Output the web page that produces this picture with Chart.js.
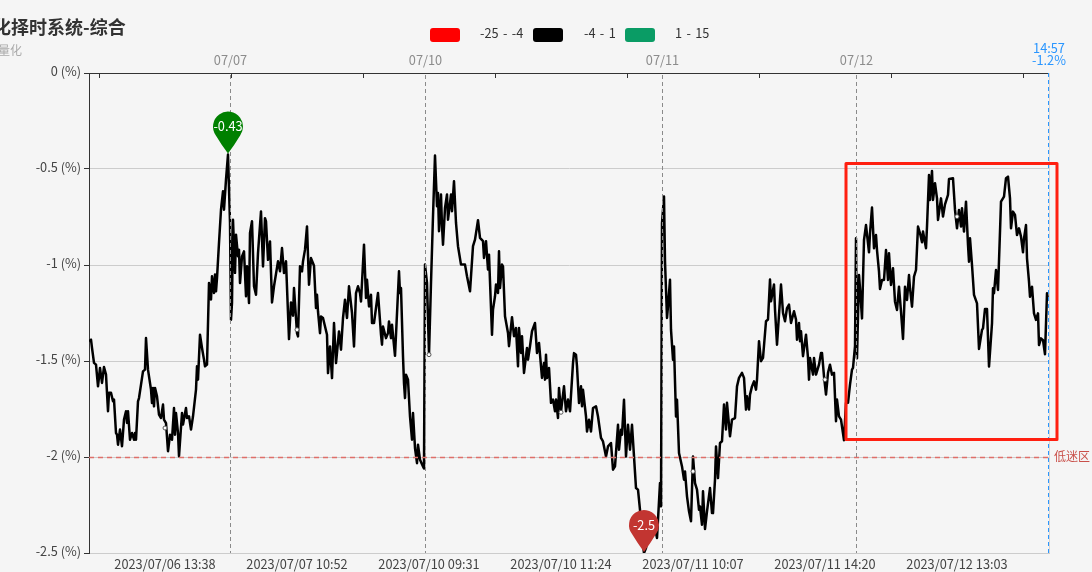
<!DOCTYPE html>
<html>
<head>
<meta charset="utf-8">
<script src="https://cdn.jsdelivr.net/npm/chart.js@4"></script>
<style>
  html, body { margin: 0; padding: 0; background: #f5f5f5; overflow: hidden; }
  #wrap { position: absolute; left: 0; top: 0; width: 1092px; height: 572px; }
</style>
</head>
<body>
<div id="wrap"><canvas id="c"></canvas></div>
<script>
// minute index along the axis and the matching value in %
const minuteIdx = [
  0,2,3,5,7,9,11,13,15,17,18,19,20,22,24,25,27,28,29,31,33,35,37,38,39,41,43,45,46,47,49,50,54,56,57,59,
  62,63,64,65,66,68,70,72,74,75,77,79,81,83,85,86,87,89,90,93,94,97,98,100,102,104,107,108,109,111,113,115,116,118,
  120,122,123,125,126,127,128,130,132,134,135,137,139,141,142,143,144,146,147,149,150,151,153,155,157,158,160,161,163,165,
  167,169,172,174,176,177,179,181,183,185,189,191,193,195,197,200,202,204,205,208,209,211,213,214,216,218,220,222,225,227,228,229,
  231,232,234,238,239,241,243,245,247,250,252,254,256,258,260,263,265,267,269,271,272,275,277,278,280,282,283,285,289,292,293,294,
  297,299,300,302,303,306,310,311,312,314,315,316,317,319,321,323,324,326,328,329,331,334,335,
  336,338,340,342,344,346,348,349,350,352,353,354,356,358,359,362,363,365,367,369,372,376,378,381,384,386,389,391,394,395,397,399,400,
  403,404,406,407,409,410,411,413,414,416,419,420,423,425,427,429,430,432,433,435,438,439,441,443,446,448,450,453,455,456,457,458,460,
  462,464,466,467,469,470,472,475,477,479,481,
  484,485,487,488,490,492,493,494,497,498,500,502,504,507,509,512,514,517,519,522,524,526,529,530,532,533,535,537,539,541,543,545,547,549,551,553,555,557,559,563,566,568,571,572,
  573,575,576,578,579,581,582,584,585,587,588,590,593,595,596,598,600,602,604,606,608,610,611,613,614,616,618,621,623,624,626,627,629,631,
  633,635,637,638,641,643,646,648,650,653,655,657,658,660,661,663,665,667,668,670,672,674,677,679,681,682,685,686,688,692,694,696,698,700,702,705,707,708,710,711,712,714,717,719,720,721,724,725,727,730,732,733,735,737,739,741,743,745,747,748,750,752,755,
  757,759,761,763,764,766,767,768,770,771,773,775,777,780,781,783,785,787,788,790,791,793,795,797,799,800,802,804,806,808,810,812,813,814,816,818,820,821,823,825,827,829,831,833,834,837,838,
  840,841,843,844,846,848,849,852,854,856,859,860,864,866,868,870,872,873,875,877,879,880,881,883,885,888,890,893,894,896,898,900,903,904,905,907,909,911,912,915,917,919,921,922,924,926,928,930,932,934,935,937,938,940,941,943,945,947,949,950,952,954,956,958,959
];
const pctValues = [
  -1.397,-1.389,-1.432,-1.51,-1.519,-1.632,-1.536,-1.614,-1.531,-1.571,-1.666,-1.762,-1.666,-1.666,-1.71,-1.701,-1.875,-1.884,-1.936,-1.857,-1.944,-1.805,-1.762,-1.823,-1.762,-1.91,-1.875,-1.91,-1.875,-1.91,-1.71,-1.693,-1.554,-1.545,-1.38,-1.545,
  -1.649,-1.719,-1.64,-1.736,-1.64,-1.684,-1.779,-1.797,-1.727,-1.805,-1.823,-1.97,-1.884,-1.91,-1.745,-1.884,-1.771,-1.875,-1.996,-1.771,-1.831,-1.745,-1.797,-1.788,-1.857,-1.788,-1.649,-1.528,-1.597,-1.363,-1.432,-1.493,-1.528,-1.519,
  -1.094,-1.18,-1.059,-1.146,-1.05,-1.137,-1.068,-0.885,-0.712,-0.616,-0.712,-0.555,-0.425,-0.781,-1.285,-1.198,-0.764,-1.041,-0.842,-0.955,-0.92,-1.094,-0.955,-0.929,-1.163,-1.007,-1.198,-0.833,-0.772,-1.111,
  -1.155,-0.938,-0.721,-1.007,-0.756,-0.773,-0.973,-0.877,-1.195,-1.111,-0.981,-1.033,-0.912,-1.042,-0.981,-1.386,-1.195,-1.264,-1.12,-1.355,-1.372,-1.007,-1.033,-0.981,-0.92,-0.799,-1.103,-0.964,-1.004,-1.224,-1.155,-1.242,
  -1.355,-1.268,-1.276,-1.363,-1.563,-1.424,-1.589,-1.302,-1.511,-1.346,-1.441,-1.276,-1.181,-1.276,-1.111,-1.25,-1.424,-1.146,-1.111,-1.146,-1.19,-0.894,-1.172,-1.077,-1.216,-1.155,-1.302,-1.302,-1.146,-1.363,-1.415,-1.32,
  -1.381,-1.355,-1.294,-1.381,-1.311,-1.473,-1.033,-1.146,-1.12,-1.476,-1.615,-1.693,-1.572,-1.598,-1.789,-1.91,-1.771,-1.953,-2.032,-1.936,-2.014,-2.049,-2.06,
  -0.998,-1.093,-1.467,-1.093,-0.746,-0.43,-0.694,-0.625,-0.824,-0.633,-0.798,-0.894,-0.703,-0.633,-0.764,-0.633,-0.72,-0.564,-0.781,-0.902,-0.998,-0.998,-1.059,-1.137,-0.902,-0.868,-0.767,-0.859,-0.876,-0.963,-0.876,-1.024,-0.946,
  -1.363,-1.232,-1.163,-1.102,-1.146,-0.929,-1.12,-0.998,-1.007,-1.267,-1.354,-1.423,-1.272,-1.371,-1.328,-1.527,-1.328,-1.458,-1.371,-1.562,-1.432,-1.493,-1.423,-1.345,-1.302,-1.458,-1.406,-1.588,-1.51,-1.597,-1.467,-1.588,-1.536,
  -1.718,-1.701,-1.762,-1.701,-1.797,-1.64,-1.762,-1.632,-1.762,-1.701,-1.762,
  -1.511,-1.459,-1.467,-1.528,-1.719,-1.632,-1.736,-1.65,-1.789,-1.867,-1.806,-1.867,-1.745,-1.736,-1.789,-1.901,-1.919,-1.997,-1.945,-1.927,-2.066,-2.049,-1.832,-1.962,-1.858,-1.884,-1.702,-1.997,-1.832,-1.962,-1.832,-1.997,-2.162,-2.17,-2.275,-2.414,-2.5,-2.474,-2.414,-2.344,-2.37,-2.422,-2.136,-2.257,
  -0.782,-0.643,-0.981,-1.276,-1.216,-1.077,-1.337,-1.493,-1.424,-1.789,-1.702,-1.979,-2.049,-2.118,-2.075,-2.205,-2.283,-2.335,-1.997,-2.136,-2.17,-2.275,-2.257,-2.353,-2.179,-2.375,-2.283,-2.162,-2.292,-2.292,-2.118,-1.945,-2.11,-1.927,
  -1.918,-1.727,-1.857,-1.718,-1.892,-1.805,-1.797,-1.632,-1.588,-1.562,-1.588,-1.753,-1.684,-1.753,-1.675,-1.632,-1.606,-1.649,-1.597,-1.397,-1.501,-1.484,-1.293,-1.284,-1.076,-1.189,-1.102,-1.232,-1.415,-1.102,-1.25,-1.293,-1.224,-1.206,-1.302,-1.241,-1.284,-1.389,-1.302,-1.397,-1.345,-1.475,-1.363,-1.484,-1.597,-1.484,-1.571,-1.484,-1.571,-1.519,-1.458,-1.458,-1.58,-1.675,-1.562,-1.519,-1.571,-1.562,-1.814,-1.701,-1.788,-1.805,-1.913,
  -1.718,-1.718,-1.623,-1.545,-1.536,-1.423,-0.861,-1.486,-1.052,-1.121,-1.278,-0.87,-0.792,-0.934,-0.835,-0.701,-0.913,-0.844,-0.922,-1.035,-1.125,-1.078,-1.078,-0.922,-1.078,-0.939,-1.104,-1.017,-1.191,-1.234,-1.113,-1.243,-1.312,-1.385,-1.113,-1.182,-1.052,-1.121,-1.217,-1.061,-1.026,-0.8,-0.835,-0.882,-0.826,-0.913,-0.8,
  -0.531,-0.661,-0.51,-0.661,-0.574,-0.653,-0.765,-0.653,-0.748,-0.684,-0.635,-0.552,-0.548,-0.713,-0.809,-0.713,-0.8,-0.705,-0.826,-0.67,-0.896,-0.983,-0.861,-1,-1.156,-1.2,-1.437,-1.338,-1.33,-1.229,-1.229,-1.529,-1.304,-1.121,-1.147,-1.026,-1.13,-0.826,-0.67,-0.644,-0.548,-0.54,-0.653,-0.809,-0.722,-0.739,-0.844,-0.809,-0.852,-0.934,-0.861,-0.792,-0.965,-1.087,-1.165,-1.113,-1.252,-1.286,-1.252,-1.417,-1.382,-1.391,-1.465,-1.147,-1.182
];

// hollow dots that sit on the line under each bottom label
const labelIdx = [76, 208, 340, 472, 604, 736, 868];
const labelText = ['2023/07/06 13:38', '2023/07/07 10:52', '2023/07/10 09:31', '2023/07/10 11:24', '2023/07/11 10:07', '2023/07/11 14:20', '2023/07/12 13:03'];
const dotValues = [-1.849, -1.337, -1.467, -1.767, -2.075, -1.597, -0.748];

const topTickIdx = [10, 142, 274, 406, 538, 670, 802, 934];
const dayIdx = [141, 336, 573, 767];
const dayText = ['07/07', '07/10', '07/11', '07/12'];

const pinIdx = [139, 555];
const pinValues = [-0.43, -2.5];
const pinText = ['-0.43', '-2.5'];
const pinColors = ['#008000', '#c23531'];

const legendText = ['-25 - -4', '-4 - 1', '1 - 15'];
const legendColors = ['#ff0000', '#000000', '#0a9c65'];

const FONT = '"Noto Sans CJK SC", "Noto Sans", sans-serif';
const SMALL = '12.75px ' + FONT;

function txt(ctx, s, x, y, color, font, align) {
  ctx.fillStyle = color;
  ctx.font = font || SMALL;
  ctx.textAlign = align || 'center';
  ctx.textBaseline = 'middle';
  ctx.fillText(s, x, y);
}

// ---------- everything echarts would draw as markLine / markPoint / graphic ----------
const overlay = {
  id: 'overlay',
  afterDatasetsDraw(chart) {
    const { ctx, scales: { x, y } } = chart;
    const top = y.getPixelForValue(0), bottom = y.getPixelForValue(-2.5);
    const left = x.getPixelForValue(0), right = x.getPixelForValue(960);
    ctx.save();

    // top axis line and its inner ticks
    ctx.strokeStyle = '#333';
    ctx.lineWidth = 1;
    ctx.beginPath();
    ctx.moveTo(left, top + 0.5); ctx.lineTo(right, top + 0.5);
    topTickIdx.forEach((t) => {
      const px = Math.round(x.getPixelForValue(t)) + 0.5;
      ctx.moveTo(px, top); ctx.lineTo(px, top + 5);
    });
    ctx.stroke();

    // low zone line
    const lowY = Math.round(y.getPixelForValue(-2)) + 0.5;
    ctx.strokeStyle = '#df6f6a';
    ctx.lineWidth = 1.5;
    ctx.setLineDash([5, 4]);
    ctx.beginPath(); ctx.moveTo(left, lowY); ctx.lineTo(right, lowY); ctx.stroke();
    ctx.lineWidth = 1;
    txt(ctx, '低迷区', right + 5, lowY - 1, '#c9504a', '12px ' + FONT, 'left');

    // day separators
    ctx.strokeStyle = '#8a8a8a';
    ctx.setLineDash([4, 3]);
    dayIdx.forEach((d, i) => {
      const px = Math.round(x.getPixelForValue(d)) + 0.5;
      ctx.beginPath(); ctx.moveTo(px, top + 2); ctx.lineTo(px, bottom); ctx.stroke();
      txt(ctx, dayText[i], px, 60, '#8c8c8c');
    });

    // current time line
    ctx.setLineDash([]);
    ctx.strokeStyle = '#d5d5d5';
    ctx.beginPath(); ctx.moveTo(right + 0.5, top); ctx.lineTo(right + 0.5, bottom); ctx.stroke();
    ctx.strokeStyle = '#2a96ff';
    ctx.setLineDash([4, 3]);
    ctx.beginPath(); ctx.moveTo(right - 0.5, top); ctx.lineTo(right - 0.5, bottom); ctx.stroke();
    ctx.setLineDash([]);
    txt(ctx, '14:57', right, 48, '#2a96ff');
    txt(ctx, '-1.2%', right, 60, '#2a96ff');

    // pins
    pinIdx.forEach((p, i) => {
      const tx = x.getPixelForValue(p), ty = Math.min(y.getPixelForValue(pinValues[i]), bottom) - (i === 0 ? 2 : 1);
      const cy = ty - 27, r = 15;
      ctx.fillStyle = pinColors[i];
      ctx.beginPath();
      ctx.arc(tx, cy, r, Math.PI * 0.8, Math.PI * 0.2, false);
      ctx.quadraticCurveTo(tx + 6, cy + 19, tx, ty);
      ctx.quadraticCurveTo(tx - 6, cy + 19, tx + r * Math.cos(Math.PI * 0.8), cy + r * Math.sin(Math.PI * 0.8));
      ctx.fill();
      txt(ctx, pinText[i], tx, cy, '#fff');
    });

    // hand drawn red box from the screenshot
    const bx1 = x.getPixelForValue(757), bx2 = x.getPixelForValue(968);
    const by1 = y.getPixelForValue(-0.471), by2 = y.getPixelForValue(-1.909);
    ctx.strokeStyle = '#ff1f10';
    ctx.lineWidth = 3;
    ctx.lineJoin = 'round';
    ctx.strokeRect(bx1, by1, bx2 - bx1, by2 - by1);

    // title, subtitle
    txt(ctx, '化择时系统-综合', -7, 27, '#333', 'bold 18px ' + FONT, 'left');
    txt(ctx, '量化', -2, 50, '#aaa', '12px ' + FONT, 'left');

    // legend
    const lx = [430, 533, 625], tx = [480, 584, 675];
    ctx.wordSpacing = '1.5px';
    legendText.forEach((s, i) => {
      ctx.fillStyle = legendColors[i];
      ctx.beginPath();
      ctx.roundRect(lx[i], 28, 30, 14, 3);
      ctx.fill();
      txt(ctx, s, tx[i], 33.5, '#333', null, 'left');
    });
    ctx.wordSpacing = '0px';
    ctx.restore();
  },
};

const points = minuteIdx.map((m, i) => ({ x: m, y: pctValues[i] }));
const dots = labelIdx.map((m, i) => ({ x: m, y: dotValues[i] }));

new Chart(document.getElementById('c'), {
  type: 'line',
  data: {
    datasets: [
      { data: points, borderColor: '#000', borderWidth: 2.5, pointRadius: 0, tension: 0, borderJoinStyle: 'round', order: 2 },
      { data: dots, showLine: false, pointRadius: 2, pointBorderWidth: 1, pointBorderColor: '#555', pointBackgroundColor: '#fff', order: 1 },
    ],
  },
  plugins: [overlay],
  options: {
    responsive: true, maintainAspectRatio: false, animation: false,
    layout: { padding: { top: 73, right: 43, left: 0, bottom: 0 } },
    plugins: { legend: { display: false }, tooltip: { enabled: false } },
    scales: {
      x: {
        type: 'linear', min: 0, max: 960,
        afterBuildTicks: (s) => { s.ticks = labelIdx.map((v) => ({ value: v })); },
        afterFit: (s) => { s.height = 19; },
        grid: { display: false, drawTicks: false },
        border: { color: '#ccc' },
        ticks: {
          autoSkip: false, maxRotation: 0, padding: 4, color: '#444',
          font: { family: FONT, size: 12.75 },
          callback: (v) => labelText[labelIdx.indexOf(v)],
        },
      },
      y: {
        min: -2.5, max: 0,
        afterFit: (s) => { s.width = 89; },
        grid: { color: '#ccc', tickColor: '#333', tickLength: 5 },
        border: { color: '#333' },
        ticks: {
          stepSize: 0.5, padding: 3, color: '#444', labelOffset: -2,
          font: { family: FONT, size: 12.75 },
          callback: (v) => v + ' (%)',
        },
      },
    },
  },
});
</script>
</body>
</html>
